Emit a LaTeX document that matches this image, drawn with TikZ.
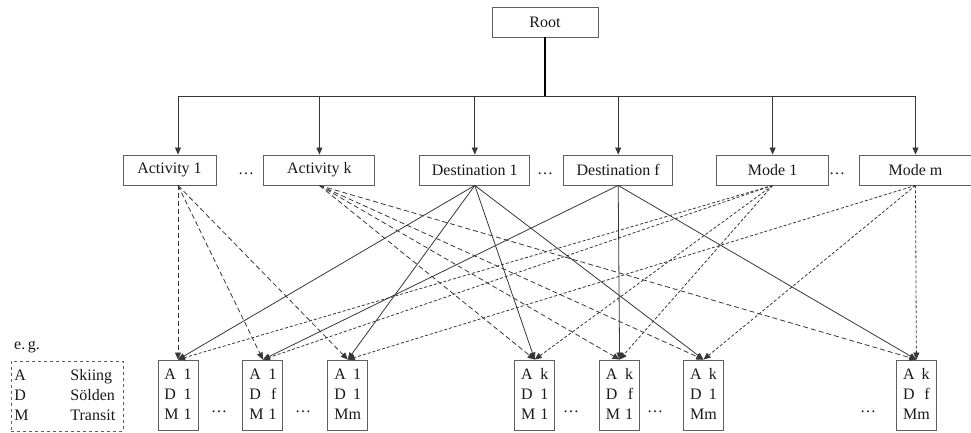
\documentclass[tikz,border=0pt]{standalone}
\usepackage{fontspec}
\setmainfont{Liberation Serif}
\usetikzlibrary{arrows.meta, positioning}
\definecolor{treeline}{RGB}{55, 55, 55}
\definecolor{treeborder}{RGB}{95, 95, 95}
\definecolor{treetext}{RGB}{25, 25, 25}
\newcommand{\amdcell}[3]{\begin{tabular}{@{}l@{\hspace{5pt}}r@{}}A & #1\\ D & #2\\ #3\end{tabular}}
\tikzset{
  box/.style={draw=treeborder, line width=0.9pt, text=treetext, font=\fontsize{16}{20}\selectfont, minimum height=30pt, inner sep=3pt},
  leaf/.style={box, minimum width=40pt, minimum height=70pt, inner xsep=5pt},
  legendbox/.style={box, dashed, minimum width=112pt, minimum height=70pt, text width=106pt, inner xsep=3pt, align=left},
  gap/.style={text=treetext, font=\fontsize{16}{20}\selectfont, inner sep=0pt},
  arr/.style={-{Triangle[length=7pt, width=6pt]}, line width=0.8pt, treeline},
  actarr/.style={arr, dash pattern=on 5pt off 3pt},
  destarr/.style={arr},
  modearr/.style={arr, dash pattern=on 3pt off 2pt}
}

\begin{document}
\begin{tikzpicture}[x=1pt, y=-1pt]
  \useasboundingbox (0,0) rectangle (971,433);

  % root and first level
  \node[box, minimum width=106pt] (root) at (545,22) {Root};
  \node[box, minimum width=93pt] (a1) at (169.5,170) {Activity 1};
  \node[box, minimum width=111pt, right=47pt of a1] (ak) {Activity k};
  \node[box, minimum width=110pt, right=44pt of ak] (d1) {Destination 1};
  \node[box, minimum width=109pt, right=33pt of d1] (df) {Destination f};
  \node[box, minimum width=112pt, right=43pt of df] (m1) {Mode 1};
  \node[box, minimum width=112pt, right=30pt of m1] (mm) {Mode m};
  \node[gap] (g1) at (246,174) {\dots};
  \node[gap] (g2) at (545,174) {\dots};
  \node[gap] (g3) at (837,174) {\dots};

  % combinations
  \node[leaf] (l1) at (178,395) {\amdcell{1}{1}{M & 1}};
  \node[leaf, right=44pt of l1] (l2) {\amdcell{1}{f}{M & 1}};
  \node[leaf, right=44pt of l2] (l3) {\amdcell{1}{1}{\multicolumn{2}{@{}l@{}}{Mm}}};
  \node[leaf, right=146pt of l3] (l4) {\amdcell{k}{1}{M & 1}};
  \node[leaf, right=44pt of l4] (l5) {\amdcell{k}{f}{M & 1}};
  \node[leaf, right=43pt of l5] (l6) {\amdcell{k}{1}{\multicolumn{2}{@{}l@{}}{Mm}}};
  \node[leaf, right=172pt of l6] (l7) {\amdcell{k}{f}{\multicolumn{2}{@{}l@{}}{Mm}}};
  \node[gap] (g4) at (219,412) {\dots};
  \node[gap] (g5) at (303,412) {\dots};
  \node[gap] (g6) at (571,412) {\dots};
  \node[gap] (g7) at (655,412) {\dots};
  \node[gap] (g8) at (868,412) {\dots};

  % legend
  \node[gap, anchor=west] (eg) at (14,347) {e.\,g.};
  \node[legendbox, anchor=north west] (legend) at (11,361)
    {\begin{tabular}{@{}p{44pt}l@{}}A & Skiing\\ D & Sölden\\ M & Transit\end{tabular}};

  % tree
  \coordinate (hub) at (545,96);
  \draw[line width=1.4pt, black] (root) -- (hub);
  \draw[arr] (hub) -| ([xshift=8.5pt]a1.north);
  \foreach \n in {ak,d1,df,m1,mm}
    \draw[arr] (hub) -| (\n.north);

  % edges to combinations
  \foreach \t in {l1,l2,l3}
    \draw[actarr] ([xshift=8.5pt]a1.south) -- (\t.north);
  \foreach \t in {l4,l5,l6,l7}
    \draw[actarr] (ak.south) -- (\t.north);
  \foreach \t in {l1,l3,l4,l6}
    \draw[destarr] (d1.south) -- (\t.north);
  \foreach \t in {l2,l5,l7}
    \draw[destarr] (df.south) -- (\t.north);
  \foreach \t in {l1,l2,l4,l5}
    \draw[modearr] (m1.south) -- (\t.north);
  \foreach \t in {l3,l6,l7}
    \draw[modearr] (mm.south) -- (\t.north);
\end{tikzpicture}
\end{document}
